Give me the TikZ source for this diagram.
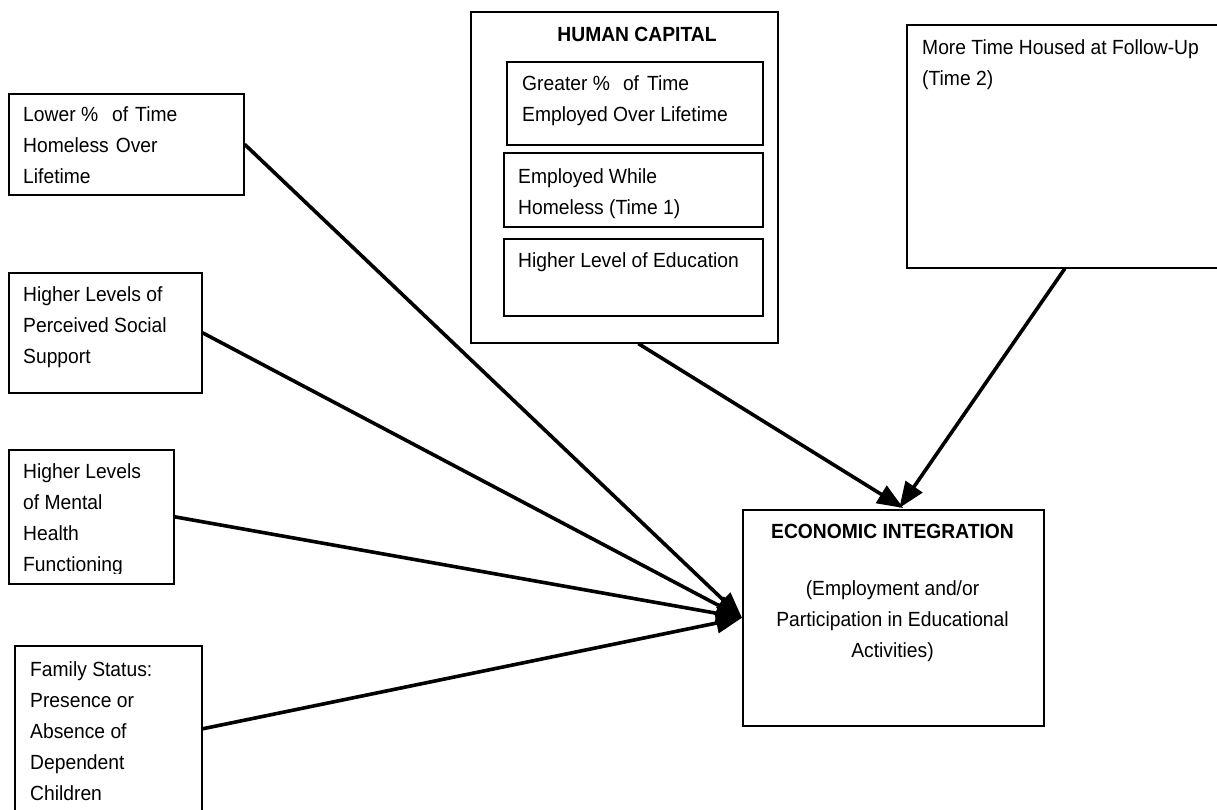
\documentclass[tikz,border=0pt]{standalone}
\usepackage{fontspec}
\setmainfont{Liberation Sans}[FakeStretch=0.94]
\usetikzlibrary{arrows.meta,calc}
\begin{document}
\begin{tikzpicture}[x=1pt,y=-1pt,
  box/.style={draw, line width=1.6pt, inner sep=0pt, anchor=north west},
  txt/.style={inner sep=0pt, anchor=north west, align=left, font=\fontsize{20.5}{31}\selectfont},
  ctxt/.style={inner sep=0pt, anchor=north, align=center, font=\fontsize{20.5}{31}\selectfont},
  ttl/.style={inner sep=0pt, anchor=base, font=\bfseries\fontsize{20.5}{31}\selectfont},
  arr/.style={line width=3.6pt, -{Triangle[length=26pt,width=20pt]}}]
\useasboundingbox (0,0) rectangle (1217,810);

% left column boxes
\node[box, minimum width=235pt, minimum height=101pt] (lower) at (8,93) {};
\node[txt] (lowert) at (23,106) {Lower \%\hspace{14pt}of\hspace{7pt}Time\\Homeless\hspace{7pt}Over\\Lifetime};

\node[box, minimum width=193pt, minimum height=120pt] (social) at (8,272) {};
\node[txt] (socialt) at (23,286) {Higher Levels of\\Perceived Social\\Support};

\node[box, minimum width=165pt, minimum height=134pt] (mental) at (8,449) {};
\begin{scope}
  \clip (8,449) rectangle (173,573.5);
  \node[txt] (mentalt) at (23,463) {Higher Levels\\of Mental\\Health\\Functioning};
\end{scope}

\node[box, minimum width=187pt, minimum height=166pt] (family) at (14,645) {};
\node[txt] (familyt) at (30,661) {Family Status:\\Presence or\\Absence of\\Dependent\\Children};

% human capital
\node[box, minimum width=307pt, minimum height=331pt] (hc) at (470,11) {};
\node[ttl] (hct) at (637,42) {HUMAN CAPITAL};
\node[box, minimum width=256pt, minimum height=83pt] (hc1) at (506,61) {};
\node[txt] (hc1t) at (522,75) {Greater \%\hspace{13pt}of\hspace{8pt}Time\\Employed Over Lifetime};
\node[box, minimum width=259pt, minimum height=74pt] (hc2) at (503,152) {};
\node[txt] (hc2t) at (518,168) {Employed\hspace{5pt}While\\Homeless (Time 1)};
\node[box, minimum width=259pt, minimum height=77pt] (hc3) at (503,238) {};
\node[txt] (hc3t) at (518,252) {Higher Level of Education};

% time housed
\node[box, minimum width=324pt, minimum height=243pt] (housed) at (906,24) {};
\node[txt] (housedt) at (922,39) {More Time Housed at Follow-Up\\(Time 2)};

% outcome
\node[box, minimum width=301pt, minimum height=216pt] (econ) at (742,509) {};
\node[ttl] (econt) at (892.5,538) {ECONOMIC INTEGRATION};
\node[ctxt] (econs) at (892.5,580) {(Employment and/or\\Participation in Educational\\Activities)};

% connectors
\coordinate (hcout) at ($(hc.south)+(14,0)$);
\coordinate (housedout) at ($(housed.south)+(-4,0)$);
\coordinate (econtopA) at ($(econ.north)+(10,-1)$);
\coordinate (econtopB) at ($(econ.north)+(6,-1)$);
\draw[arr] (lower.east) -- (econ.west);
\draw[arr] (social.east) -- (econ.west);
\draw[arr] (mental.east) -- (econ.west);
\draw[arr] (family.east) -- (econ.west);
\draw[arr] (hcout) -- (econtopA);
\draw[arr] (housedout) -- (econtopB);
\end{tikzpicture}
\end{document}
